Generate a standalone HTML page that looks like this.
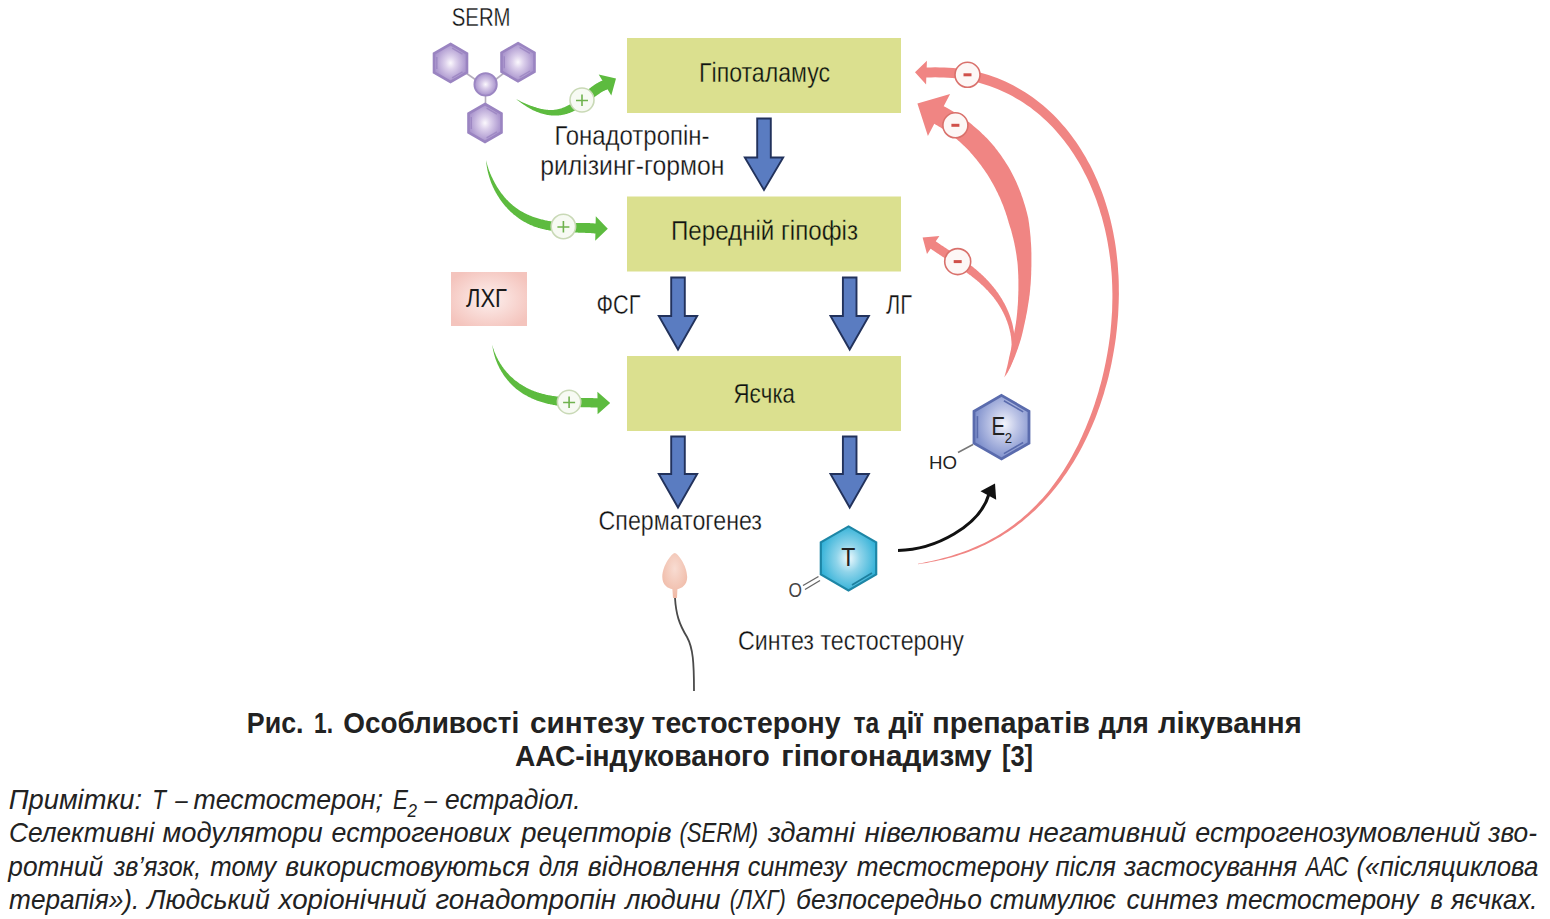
<!DOCTYPE html>
<html><head><meta charset="utf-8"><title>Рис. 1</title>
<style>
html,body{margin:0;padding:0;background:#fff;width:1550px;height:919px;overflow:hidden}
svg{display:block}
text{font-family:"Liberation Sans",sans-serif}
.lab{fill:#111;stroke:#ffffff;stroke-width:0.3px}
.lhg{fill:#1a1a1a}
.box{fill:#111;stroke:#dbe08f;stroke-width:0.3px}
.mol{fill:#222}
.cap{fill:#222;font-weight:bold}
.note{fill:#222;font-style:italic}
.ba{fill:#5a7cc1;stroke:#22325c;stroke-width:1.9;stroke-linejoin:miter}
</style></head><body>
<svg width="1550" height="919" viewBox="0 0 1550 919">
<defs>
<radialGradient id="gp" cx="0.5" cy="0.5" r="0.55"><stop offset="0" stop-color="#fbf8fd"/><stop offset="0.3" stop-color="#ddd1ec"/><stop offset="0.8" stop-color="#b09cd1"/><stop offset="1" stop-color="#a48ec9"/></radialGradient>
<radialGradient id="gt" cx="0.5" cy="0.5" r="0.55"><stop offset="0" stop-color="#f2fbfe"/><stop offset="0.4" stop-color="#8fd4ea"/><stop offset="1" stop-color="#2aaed6"/></radialGradient>
<radialGradient id="ge" cx="0.55" cy="0.45" r="0.55"><stop offset="0" stop-color="#f4f5fb"/><stop offset="0.45" stop-color="#bcc4e6"/><stop offset="1" stop-color="#7f90cc"/></radialGradient>
<radialGradient id="gl" cx="0.5" cy="0.5" r="0.6"><stop offset="0" stop-color="#fdf0ee"/><stop offset="1" stop-color="#f4c4bd"/></radialGradient>
<radialGradient id="gs" cx="0.5" cy="0.35" r="0.6"><stop offset="0" stop-color="#f8dcd2"/><stop offset="1" stop-color="#f0bba8"/></radialGradient>
</defs>
<rect x="627" y="38" width="274" height="75" fill="#dbe08f"/>
<rect x="627" y="196.5" width="274" height="75" fill="#dbe08f"/>
<rect x="627" y="356" width="274" height="75" fill="#dbe08f"/>
<text class="box" x="699.00" y="82" font-size="28" textLength="130.99" lengthAdjust="spacingAndGlyphs">Гіпоталамус</text>
<text class="box" x="671.00" y="240" font-size="28" textLength="187.01" lengthAdjust="spacingAndGlyphs">Передній гіпофіз</text>
<text class="box" x="733.50" y="402.5" font-size="28" textLength="61.48" lengthAdjust="spacingAndGlyphs">Яєчка</text>
<polygon class="ba" points="757.2,118.5 770.8,118.5 770.8,157.5 783.2,157.5 764.0,190.0 744.8,157.5 757.2,157.5"/>
<polygon class="ba" points="671.2,277.5 684.8,277.5 684.8,316.0 697.2,316.0 678.0,349.5 658.8,316.0 671.2,316.0"/>
<polygon class="ba" points="842.9,277.5 856.5,277.5 856.5,316.0 868.9,316.0 849.7,349.5 830.5,316.0 842.9,316.0"/>
<polygon class="ba" points="671.2,436.5 684.8,436.5 684.8,474.0 697.2,474.0 678.0,507.5 658.8,474.0 671.2,474.0"/>
<polygon class="ba" points="842.9,436.5 856.5,436.5 856.5,474.0 868.9,474.0 849.7,507.5 830.5,474.0 842.9,474.0"/>
<text class="lab" x="451.80" y="26.4" font-size="26.5" textLength="58.78" lengthAdjust="spacingAndGlyphs">SERM</text>
<text class="lab" x="554.40" y="144.7" font-size="28" textLength="155.07" lengthAdjust="spacingAndGlyphs">Гонадотропін-</text>
<text class="lab" x="540.20" y="174.9" font-size="28" textLength="184.23" lengthAdjust="spacingAndGlyphs">рилізинг-гормон</text>
<text class="lab" x="596.50" y="314.2" font-size="27" textLength="43.98" lengthAdjust="spacingAndGlyphs">ФСГ</text>
<text class="lab" x="886.00" y="314.2" font-size="27" textLength="26.01" lengthAdjust="spacingAndGlyphs">ЛГ</text>
<text class="lab" x="598.60" y="530" font-size="28" textLength="163.39" lengthAdjust="spacingAndGlyphs">Сперматогенез</text>
<text class="lab" x="738.00" y="650.3" font-size="28" textLength="225.88" lengthAdjust="spacingAndGlyphs">Синтез тестостерону</text>
<rect x="451" y="272" width="76" height="54" fill="url(#gl)"/>
<text class="lhg" x="466.00" y="306.7" font-size="26.5" textLength="40.99" lengthAdjust="spacingAndGlyphs">ЛХГ</text>
<g stroke="#b5aebd" stroke-width="1.6"><line x1="466" y1="73" x2="476" y2="80"/><line x1="504" y1="73" x2="495" y2="80"/><line x1="485.5" y1="96" x2="485.5" y2="104"/></g>
<polygon points="450.5,44.0 467.0,53.5 467.0,72.5 450.5,82.0 434.0,72.5 434.0,53.5" fill="url(#gp)" stroke="#9a84c1" stroke-width="2.6"/>
<g stroke="#9a84c1" stroke-width="1.4" opacity="0.8"><line x1="452.1" y1="48.1" x2="462.5" y2="54.2"/><line x1="462.5" y1="71.8" x2="452.1" y2="77.9"/><line x1="436.8" y1="69.0" x2="436.8" y2="57.0"/></g>
<polygon points="518.0,43.2 534.5,52.7 534.5,71.7 518.0,81.2 501.5,71.7 501.5,52.7" fill="url(#gp)" stroke="#9a84c1" stroke-width="2.6"/>
<g stroke="#9a84c1" stroke-width="1.4" opacity="0.8"><line x1="519.6" y1="47.3" x2="530.0" y2="53.4"/><line x1="530.0" y1="71.0" x2="519.6" y2="77.1"/><line x1="504.3" y1="68.2" x2="504.3" y2="56.2"/></g>
<polygon points="485.0,104.0 501.5,113.5 501.5,132.5 485.0,142.0 468.5,132.5 468.5,113.5" fill="url(#gp)" stroke="#9a84c1" stroke-width="2.6"/>
<g stroke="#9a84c1" stroke-width="1.4" opacity="0.8"><line x1="486.6" y1="108.1" x2="497.0" y2="114.2"/><line x1="497.0" y1="131.8" x2="486.6" y2="137.9"/><line x1="471.3" y1="129.0" x2="471.3" y2="117.0"/></g>
<circle cx="485.6" cy="84.4" r="11.2" fill="url(#gp)" stroke="#9b86c2" stroke-width="1.8"/>
<path d="M516.0,99.0 L516.4,99.3 L516.9,99.7 L517.3,100.0 L517.8,100.4 L518.3,100.7 L518.7,101.1 L519.2,101.5 L519.7,101.8 L520.2,102.2 L520.7,102.6 L521.2,102.9 L521.7,103.3 L522.2,103.7 L522.8,104.0 L523.3,104.4 L523.8,104.8 L524.4,105.1 L524.9,105.5 L525.5,105.8 L526.0,106.2 L526.6,106.6 L527.1,106.9 L527.7,107.3 L528.3,107.6 L528.9,108.0 L529.4,108.3 L530.0,108.6 L530.6,109.0 L531.2,109.3 L531.8,109.6 L532.4,109.9 L533.0,110.2 L533.6,110.5 L534.3,110.8 L534.9,111.1 L535.5,111.3 L536.1,111.6 L536.8,111.9 L537.4,112.1 L538.0,112.3 L538.7,112.6 L539.3,112.8 L539.9,113.0 L540.6,113.2 L541.2,113.4 L541.9,113.6 L542.5,113.8 L543.2,114.0 L543.8,114.1 L544.5,114.3 L545.1,114.5 L545.8,114.6 L546.4,114.7 L547.1,114.9 L547.7,115.0 L548.4,115.1 L549.0,115.2 L549.7,115.3 L550.3,115.3 L551.0,115.4 L551.7,115.4 L552.3,115.5 L553.0,115.5 L553.6,115.6 L554.3,115.6 L554.9,115.6 L555.6,115.6 L556.3,115.6 L556.9,115.5 L557.6,115.5 L558.2,115.5 L558.9,115.4 L559.5,115.3 L560.2,115.3 L560.8,115.2 L561.5,115.1 L562.1,115.0 L562.8,114.8 L563.4,114.7 L564.0,114.6 L564.7,114.4 L565.3,114.3 L566.0,114.1 L566.6,113.9 L567.2,113.7 L567.9,113.5 L568.5,113.3 L569.1,113.1 L569.7,112.9 L570.4,112.6 L571.0,112.4 L571.6,112.1 L572.2,111.9 L572.8,111.6 L573.4,111.3 L574.0,111.0 L574.6,110.7 L575.2,110.4 L575.8,110.1 L576.4,109.8 L577.0,109.5 L577.6,109.1 L578.1,108.8 L578.7,108.5 L579.3,108.1 L579.9,107.7 L580.4,107.4 L581.0,107.0 L581.6,106.7 L582.1,106.3 L582.7,105.9 L583.2,105.5 L583.8,105.1 L584.3,104.8 L584.9,104.4 L585.4,104.0 L586.0,103.6 L586.5,103.2 L587.1,102.8 L587.6,102.4 L588.1,102.0 L588.6,101.6 L589.2,101.2 L589.7,100.8 L590.2,100.4 L590.7,100.0 L591.3,99.6 L591.8,99.2 L592.3,98.8 L592.8,98.4 L593.3,98.0 L593.8,97.6 L594.3,97.2 L594.8,96.9 L595.3,96.5 L595.8,96.1 L596.3,95.8 L596.8,95.4 L597.3,95.1 L597.8,94.7 L598.3,94.4 L598.7,94.0 L599.2,93.7 L599.7,93.4 L600.2,93.0 L600.6,92.7 L601.1,92.4 L601.6,92.1 L602.0,91.9 L602.5,91.6 L603.0,91.4 L603.4,91.1 L603.9,90.9 L604.3,90.7 L604.8,90.4 L605.2,90.3 L605.7,90.1 L606.1,89.9 L606.7,89.7 L607.5,89.3 L611.3,95.6 L616.0,78.5 L598.7,74.4 L602.5,80.7 L603.3,80.3 L602.7,80.5 L602.0,80.8 L601.4,81.0 L600.7,81.3 L600.1,81.6 L599.4,81.9 L598.8,82.2 L598.2,82.6 L597.6,82.9 L597.0,83.2 L596.4,83.6 L595.8,84.0 L595.2,84.3 L594.6,84.7 L594.1,85.1 L593.5,85.5 L592.9,85.9 L592.4,86.3 L591.8,86.7 L591.3,87.1 L590.8,87.5 L590.2,87.9 L589.7,88.3 L589.2,88.8 L588.7,89.2 L588.2,89.6 L587.7,90.1 L587.2,90.5 L586.7,90.9 L586.2,91.4 L585.7,91.8 L585.2,92.2 L584.7,92.7 L584.2,93.1 L583.7,93.5 L583.3,94.0 L582.8,94.4 L582.3,94.8 L581.8,95.2 L581.3,95.7 L580.8,96.1 L580.4,96.5 L579.9,96.9 L579.4,97.3 L578.9,97.7 L578.4,98.1 L578.0,98.5 L577.5,98.9 L577.0,99.3 L576.5,99.7 L576.1,100.1 L575.6,100.4 L575.1,100.8 L574.6,101.2 L574.1,101.5 L573.7,101.9 L573.2,102.2 L572.7,102.6 L572.2,102.9 L571.7,103.2 L571.2,103.5 L570.7,103.8 L570.3,104.1 L569.8,104.4 L569.3,104.7 L568.8,105.0 L568.3,105.3 L567.8,105.5 L567.3,105.8 L566.8,106.1 L566.3,106.3 L565.8,106.6 L565.3,106.8 L564.8,107.0 L564.3,107.2 L563.8,107.4 L563.2,107.6 L562.7,107.8 L562.2,108.0 L561.7,108.2 L561.2,108.4 L560.6,108.5 L560.1,108.7 L559.6,108.8 L559.0,109.0 L558.5,109.1 L558.0,109.2 L557.4,109.3 L556.9,109.4 L556.3,109.5 L555.8,109.6 L555.2,109.7 L554.6,109.7 L554.1,109.8 L553.5,109.9 L553.0,109.9 L552.4,109.9 L551.8,109.9 L551.2,110.0 L550.7,110.0 L550.1,110.0 L549.5,109.9 L548.9,109.9 L548.3,109.9 L547.7,109.8 L547.1,109.8 L546.5,109.7 L545.9,109.7 L545.3,109.6 L544.7,109.5 L544.1,109.4 L543.5,109.3 L542.9,109.2 L542.3,109.1 L541.7,109.0 L541.1,108.9 L540.5,108.7 L539.9,108.6 L539.3,108.4 L538.7,108.3 L538.0,108.1 L537.4,107.9 L536.8,107.7 L536.2,107.5 L535.6,107.3 L535.0,107.1 L534.4,106.9 L533.8,106.7 L533.1,106.5 L532.5,106.3 L531.9,106.1 L531.3,105.9 L530.7,105.7 L530.1,105.4 L529.5,105.2 L528.9,105.0 L528.2,104.7 L527.6,104.5 L527.0,104.3 L526.4,104.0 L525.8,103.8 L525.3,103.5 L524.7,103.2 L524.1,103.0 L523.5,102.7 L522.9,102.5 L522.4,102.2 L521.8,101.9 L521.2,101.7 L520.7,101.4 L520.1,101.1 L519.6,100.8 L519.1,100.6 L518.5,100.3 L518.0,100.0 L517.5,99.8 L517.0,99.5 L516.5,99.3 L516.0,99.0Z" fill="#5dbb3f"/>
<path d="M486.0,160.0 L486.1,160.8 L486.2,161.7 L486.2,162.5 L486.3,163.4 L486.5,164.3 L486.6,165.1 L486.7,166.0 L486.9,166.9 L487.0,167.8 L487.2,168.6 L487.3,169.5 L487.5,170.4 L487.7,171.3 L487.9,172.2 L488.1,173.1 L488.4,174.0 L488.6,174.9 L488.9,175.8 L489.1,176.7 L489.4,177.6 L489.7,178.5 L490.0,179.4 L490.3,180.3 L490.6,181.2 L490.9,182.0 L491.2,182.9 L491.6,183.8 L492.0,184.7 L492.4,185.6 L492.7,186.4 L493.1,187.3 L493.5,188.1 L494.0,189.0 L494.4,189.9 L494.8,190.7 L495.3,191.6 L495.7,192.4 L496.2,193.2 L496.7,194.1 L497.2,194.9 L497.7,195.7 L498.2,196.5 L498.7,197.3 L499.2,198.1 L499.7,198.9 L500.3,199.7 L500.8,200.5 L501.4,201.2 L501.9,202.0 L502.5,202.8 L503.1,203.5 L503.7,204.3 L504.3,205.0 L504.9,205.7 L505.5,206.4 L506.2,207.1 L506.8,207.8 L507.4,208.5 L508.1,209.2 L508.8,209.9 L509.4,210.6 L510.1,211.2 L510.8,211.9 L511.5,212.5 L512.2,213.1 L512.9,213.8 L513.6,214.4 L514.4,215.0 L515.1,215.6 L515.8,216.1 L516.6,216.7 L517.3,217.3 L518.1,217.8 L518.9,218.4 L519.7,218.9 L520.4,219.4 L521.2,219.9 L522.0,220.4 L522.8,220.9 L523.6,221.4 L524.5,221.9 L525.3,222.3 L526.1,222.8 L527.0,223.2 L527.8,223.7 L528.6,224.1 L529.5,224.5 L530.3,224.9 L531.2,225.3 L532.1,225.6 L533.0,226.0 L533.8,226.4 L534.7,226.7 L535.6,227.0 L536.5,227.3 L537.4,227.6 L538.3,227.9 L539.2,228.1 L540.2,228.4 L541.1,228.6 L542.0,228.9 L542.9,229.1 L543.8,229.3 L544.8,229.5 L545.7,229.7 L546.6,229.9 L547.6,230.1 L548.5,230.3 L549.4,230.4 L550.4,230.6 L551.3,230.7 L552.3,230.9 L553.2,231.0 L554.1,231.2 L555.1,231.3 L556.0,231.4 L557.0,231.5 L557.9,231.6 L558.9,231.7 L559.8,231.8 L560.7,231.9 L561.7,231.9 L562.6,232.0 L563.6,232.1 L564.5,232.1 L565.5,232.2 L566.4,232.2 L567.4,232.3 L568.3,232.3 L569.2,232.4 L570.2,232.4 L571.1,232.5 L572.0,232.5 L573.0,232.5 L573.9,232.5 L574.8,232.6 L575.7,232.6 L576.7,232.6 L577.6,232.6 L578.5,232.7 L579.4,232.7 L580.3,232.7 L581.2,232.7 L582.1,232.8 L583.0,232.8 L583.9,232.8 L584.8,232.8 L585.7,232.9 L586.6,232.9 L587.4,233.0 L588.3,233.0 L589.2,233.0 L590.0,233.1 L590.9,233.1 L591.7,233.2 L592.6,233.3 L593.4,233.3 L594.2,233.4 L595.1,233.5 L595.4,233.5 L595.2,240.7 L607.8,228.8 L595.8,216.3 L595.6,223.5 L595.9,223.5 L595.1,223.4 L594.2,223.4 L593.2,223.3 L592.3,223.3 L591.4,223.2 L590.5,223.2 L589.6,223.1 L588.7,223.1 L587.8,223.1 L586.9,223.1 L586.0,223.0 L585.1,223.0 L584.1,223.0 L583.2,223.0 L582.3,223.0 L581.4,223.0 L580.5,222.9 L579.6,222.9 L578.7,222.9 L577.8,222.9 L576.8,222.9 L575.9,222.9 L575.0,222.9 L574.1,222.9 L573.2,222.9 L572.3,222.8 L571.4,222.8 L570.5,222.8 L569.6,222.8 L568.7,222.8 L567.8,222.7 L566.8,222.7 L565.9,222.7 L565.0,222.6 L564.1,222.6 L563.3,222.5 L562.4,222.5 L561.5,222.4 L560.6,222.4 L559.7,222.3 L558.8,222.2 L557.9,222.1 L557.0,222.1 L556.1,222.0 L555.3,221.9 L554.4,221.8 L553.5,221.7 L552.7,221.5 L551.8,221.4 L550.9,221.3 L550.1,221.2 L549.2,221.0 L548.4,220.9 L547.5,220.7 L546.7,220.5 L545.8,220.4 L545.0,220.2 L544.1,220.0 L543.3,219.8 L542.5,219.6 L541.6,219.4 L540.8,219.2 L540.0,218.9 L539.2,218.7 L538.4,218.4 L537.6,218.2 L536.8,218.0 L536.0,217.7 L535.1,217.5 L534.3,217.2 L533.5,216.9 L532.8,216.7 L532.0,216.4 L531.2,216.1 L530.4,215.8 L529.6,215.4 L528.8,215.1 L528.1,214.8 L527.3,214.4 L526.5,214.1 L525.8,213.7 L525.0,213.3 L524.3,212.9 L523.5,212.5 L522.8,212.1 L522.0,211.7 L521.3,211.3 L520.6,210.9 L519.9,210.4 L519.1,210.0 L518.4,209.5 L517.7,209.0 L517.0,208.5 L516.3,208.0 L515.6,207.5 L514.9,207.0 L514.3,206.5 L513.6,205.9 L512.9,205.4 L512.2,204.8 L511.6,204.2 L510.9,203.7 L510.3,203.1 L509.6,202.5 L509.0,201.9 L508.4,201.3 L507.8,200.6 L507.1,200.0 L506.5,199.4 L505.9,198.7 L505.3,198.0 L504.7,197.4 L504.2,196.7 L503.6,196.0 L503.0,195.3 L502.5,194.6 L501.9,193.9 L501.4,193.2 L500.8,192.5 L500.3,191.7 L499.8,191.0 L499.3,190.2 L498.8,189.5 L498.3,188.7 L497.8,187.9 L497.3,187.2 L496.8,186.4 L496.3,185.6 L495.9,184.8 L495.4,184.0 L495.0,183.2 L494.6,182.4 L494.1,181.6 L493.7,180.8 L493.3,180.0 L492.9,179.2 L492.5,178.3 L492.1,177.5 L491.7,176.7 L491.3,175.9 L491.0,175.0 L490.6,174.2 L490.2,173.4 L489.9,172.5 L489.6,171.7 L489.2,170.9 L488.9,170.0 L488.6,169.2 L488.3,168.3 L488.1,167.5 L487.8,166.7 L487.5,165.8 L487.3,165.0 L487.0,164.1 L486.8,163.3 L486.6,162.5 L486.4,161.6 L486.2,160.8 L486.0,160.0Z" fill="#5dbb3f"/>
<path d="M492.2,344.7 L492.3,345.5 L492.4,346.4 L492.6,347.2 L492.7,348.1 L492.9,348.9 L493.0,349.8 L493.2,350.6 L493.4,351.4 L493.6,352.3 L493.8,353.1 L494.0,353.9 L494.2,354.8 L494.5,355.6 L494.7,356.4 L495.0,357.2 L495.2,358.1 L495.5,358.9 L495.8,359.7 L496.1,360.5 L496.4,361.3 L496.7,362.1 L497.1,362.9 L497.4,363.7 L497.7,364.5 L498.1,365.3 L498.5,366.0 L498.8,366.8 L499.2,367.6 L499.6,368.4 L500.0,369.1 L500.5,369.9 L500.9,370.6 L501.3,371.4 L501.7,372.1 L502.2,372.8 L502.7,373.6 L503.1,374.3 L503.6,375.0 L504.1,375.7 L504.6,376.4 L505.1,377.1 L505.6,377.8 L506.2,378.5 L506.7,379.1 L507.2,379.8 L507.8,380.5 L508.4,381.1 L508.9,381.8 L509.5,382.4 L510.1,383.0 L510.7,383.7 L511.3,384.3 L511.9,384.9 L512.5,385.5 L513.1,386.1 L513.7,386.7 L514.4,387.2 L515.0,387.8 L515.7,388.4 L516.3,388.9 L517.0,389.5 L517.7,390.0 L518.4,390.5 L519.1,391.0 L519.8,391.5 L520.5,392.0 L521.2,392.5 L521.9,393.0 L522.6,393.4 L523.4,393.9 L524.1,394.4 L524.9,394.8 L525.6,395.2 L526.4,395.6 L527.1,396.1 L527.9,396.5 L528.7,396.9 L529.4,397.3 L530.2,397.6 L531.0,398.0 L531.8,398.4 L532.6,398.7 L533.4,399.1 L534.2,399.4 L535.0,399.7 L535.8,400.1 L536.6,400.4 L537.4,400.7 L538.2,401.0 L539.1,401.3 L539.9,401.5 L540.7,401.8 L541.6,402.1 L542.4,402.3 L543.2,402.6 L544.1,402.8 L544.9,403.0 L545.8,403.3 L546.6,403.5 L547.5,403.7 L548.3,403.9 L549.2,404.1 L550.1,404.3 L550.9,404.5 L551.8,404.6 L552.6,404.8 L553.5,405.0 L554.4,405.1 L555.2,405.3 L556.1,405.4 L557.0,405.5 L557.9,405.7 L558.7,405.8 L559.6,405.9 L560.5,406.0 L561.3,406.1 L562.2,406.2 L563.1,406.3 L564.0,406.3 L564.8,406.4 L565.7,406.5 L566.6,406.6 L567.4,406.6 L568.3,406.7 L569.2,406.8 L570.0,406.8 L570.9,406.8 L571.8,406.9 L572.6,406.9 L573.5,407.0 L574.4,407.0 L575.2,407.0 L576.1,407.0 L576.9,407.1 L577.8,407.1 L578.6,407.1 L579.5,407.1 L580.3,407.1 L581.2,407.2 L582.0,407.2 L582.8,407.2 L583.7,407.2 L584.5,407.2 L585.3,407.2 L586.1,407.3 L587.0,407.3 L587.8,407.3 L588.6,407.3 L589.4,407.3 L590.2,407.3 L591.0,407.4 L591.8,407.4 L592.6,407.4 L593.4,407.4 L594.1,407.5 L594.9,407.5 L595.7,407.6 L596.5,407.6 L597.2,407.6 L597.5,407.6 L597.6,414.2 L610.2,402.9 L597.4,391.8 L597.5,398.4 L597.8,398.4 L597.0,398.3 L596.2,398.3 L595.4,398.2 L594.5,398.2 L593.7,398.2 L592.9,398.1 L592.1,398.1 L591.3,398.1 L590.5,398.0 L589.6,398.0 L588.8,398.0 L588.0,398.0 L587.2,398.0 L586.3,398.0 L585.5,397.9 L584.7,397.9 L583.8,397.9 L583.0,397.9 L582.2,397.9 L581.3,397.9 L580.5,397.8 L579.7,397.8 L578.8,397.8 L578.0,397.8 L577.2,397.8 L576.3,397.7 L575.5,397.7 L574.7,397.7 L573.8,397.7 L573.0,397.6 L572.2,397.6 L571.3,397.6 L570.5,397.5 L569.7,397.5 L568.8,397.4 L568.0,397.4 L567.2,397.3 L566.4,397.3 L565.5,397.2 L564.7,397.2 L563.9,397.1 L563.1,397.1 L562.2,397.0 L561.4,396.9 L560.6,396.8 L559.8,396.8 L559.0,396.7 L558.1,396.6 L557.3,396.5 L556.5,396.4 L555.7,396.3 L554.9,396.2 L554.1,396.1 L553.3,396.0 L552.5,395.9 L551.7,395.7 L550.9,395.6 L550.1,395.5 L549.3,395.3 L548.5,395.2 L547.7,395.0 L546.9,394.9 L546.1,394.7 L545.3,394.5 L544.6,394.3 L543.8,394.1 L543.0,393.9 L542.2,393.7 L541.5,393.5 L540.7,393.3 L539.9,393.1 L539.2,392.9 L538.4,392.6 L537.7,392.4 L536.9,392.1 L536.2,391.9 L535.4,391.6 L534.7,391.4 L534.0,391.1 L533.2,390.8 L532.5,390.5 L531.8,390.2 L531.1,389.9 L530.3,389.6 L529.6,389.2 L528.9,388.9 L528.2,388.6 L527.5,388.2 L526.8,387.9 L526.1,387.5 L525.4,387.1 L524.8,386.7 L524.1,386.3 L523.4,385.9 L522.7,385.5 L522.1,385.1 L521.4,384.7 L520.8,384.3 L520.1,383.9 L519.4,383.4 L518.8,383.0 L518.2,382.5 L517.5,382.1 L516.9,381.6 L516.2,381.1 L515.6,380.7 L515.0,380.2 L514.4,379.7 L513.8,379.2 L513.2,378.6 L512.6,378.1 L512.0,377.6 L511.4,377.1 L510.8,376.5 L510.2,375.9 L509.7,375.4 L509.1,374.8 L508.6,374.2 L508.0,373.6 L507.5,373.0 L506.9,372.4 L506.4,371.8 L505.9,371.2 L505.4,370.6 L504.9,369.9 L504.3,369.3 L503.8,368.7 L503.4,368.0 L502.9,367.3 L502.4,366.7 L501.9,366.0 L501.5,365.3 L501.0,364.6 L500.6,363.9 L500.1,363.2 L499.7,362.5 L499.3,361.8 L498.8,361.1 L498.4,360.4 L498.0,359.6 L497.7,358.9 L497.3,358.1 L496.9,357.4 L496.5,356.6 L496.2,355.9 L495.8,355.1 L495.5,354.3 L495.2,353.5 L494.8,352.8 L494.5,352.0 L494.2,351.2 L494.0,350.4 L493.7,349.6 L493.4,348.8 L493.1,348.0 L492.9,347.2 L492.6,346.3 L492.4,345.5 L492.2,344.7Z" fill="#5dbb3f"/>
<circle cx="582" cy="100" r="12" fill="#f7faf3" stroke="#c9d9b6" stroke-width="1.6"/><path d="M576,100.5 H588 M582,94.5 V106" stroke="#6fb24e" stroke-width="1.6"/>
<circle cx="563.4" cy="226.5" r="12.2" fill="#f7faf3" stroke="#c9d9b6" stroke-width="1.6"/><path d="M557.4,227.0 H569.4 M563.4,221.0 V232.5" stroke="#6fb24e" stroke-width="1.6"/>
<circle cx="569.1" cy="402" r="11.7" fill="#f7faf3" stroke="#c9d9b6" stroke-width="1.6"/><path d="M563.1,402.5 H575.1 M569.1,396.5 V408" stroke="#6fb24e" stroke-width="1.6"/>
<path d="M918.0,564.2 L922.3,563.6 L926.5,562.9 L930.8,562.1 L935.1,561.2 L939.3,560.3 L943.6,559.4 L947.9,558.3 L952.1,557.2 L956.4,555.9 L960.6,554.6 L964.8,553.2 L968.9,551.7 L973.1,550.1 L977.1,548.4 L981.2,546.6 L985.2,544.8 L989.1,542.8 L993.0,540.8 L996.9,538.6 L1000.7,536.4 L1004.4,534.1 L1008.1,531.7 L1011.7,529.3 L1015.3,526.7 L1018.8,524.1 L1022.2,521.4 L1025.6,518.6 L1028.9,515.8 L1032.2,512.8 L1035.4,509.9 L1038.5,506.8 L1041.6,503.7 L1044.6,500.5 L1047.6,497.2 L1050.4,493.9 L1053.3,490.6 L1056.0,487.2 L1058.7,483.7 L1061.4,480.2 L1063.9,476.6 L1066.5,473.0 L1068.9,469.3 L1071.3,465.6 L1073.6,461.9 L1075.9,458.1 L1078.1,454.3 L1080.2,450.4 L1082.3,446.5 L1084.3,442.6 L1086.3,438.6 L1088.2,434.6 L1090.0,430.6 L1091.8,426.6 L1093.5,422.5 L1095.2,418.4 L1096.8,414.3 L1098.3,410.1 L1099.8,406.0 L1101.2,401.8 L1102.6,397.6 L1103.9,393.4 L1105.1,389.1 L1106.3,384.9 L1107.5,380.7 L1108.6,376.4 L1109.6,372.1 L1110.6,367.8 L1111.5,363.5 L1112.3,359.2 L1113.1,354.9 L1113.9,350.5 L1114.6,346.2 L1115.3,341.8 L1115.9,337.5 L1116.4,333.1 L1116.9,328.8 L1117.3,324.4 L1117.7,320.0 L1118.1,315.6 L1118.3,311.3 L1118.5,306.9 L1118.7,302.5 L1118.8,298.1 L1118.9,293.7 L1118.8,289.3 L1118.8,284.9 L1118.7,280.5 L1118.5,276.1 L1118.2,271.7 L1117.9,267.3 L1117.6,262.9 L1117.1,258.5 L1116.6,254.1 L1116.1,249.8 L1115.5,245.4 L1114.8,241.0 L1114.0,236.7 L1113.2,232.3 L1112.3,228.0 L1111.3,223.6 L1110.3,219.3 L1109.2,215.0 L1108.0,210.7 L1106.7,206.4 L1105.4,202.2 L1104.0,198.0 L1102.5,193.8 L1100.9,189.6 L1099.3,185.4 L1097.6,181.3 L1095.8,177.2 L1093.9,173.1 L1092.0,169.1 L1090.0,165.1 L1087.8,161.2 L1085.7,157.3 L1083.4,153.4 L1081.0,149.6 L1078.6,145.8 L1076.1,142.1 L1073.5,138.4 L1070.8,134.8 L1068.1,131.3 L1065.3,127.8 L1062.3,124.4 L1059.3,121.1 L1056.3,117.8 L1053.1,114.6 L1049.9,111.5 L1046.6,108.5 L1043.2,105.6 L1039.7,102.7 L1036.2,100.0 L1032.6,97.3 L1028.9,94.8 L1025.1,92.3 L1021.3,89.9 L1017.4,87.7 L1013.5,85.5 L1009.5,83.5 L1005.4,81.6 L1001.3,79.8 L997.1,78.1 L992.8,76.6 L988.6,75.1 L984.2,73.8 L979.9,72.6 L975.5,71.6 L971.1,70.6 L966.6,69.8 L962.2,69.1 L957.7,68.5 L953.2,68.1 L948.7,67.7 L944.2,67.5 L939.7,67.4 L935.2,67.3 L930.7,67.4 L926.3,67.6 L926.7,67.6 L926.9,60.8 L915.0,72.2 L926.1,84.4 L926.3,77.6 L926.7,77.6 L931.0,77.4 L935.2,77.3 L939.5,77.4 L943.8,77.5 L948.0,77.7 L952.3,78.0 L956.5,78.5 L960.7,79.0 L964.9,79.7 L969.1,80.4 L973.3,81.3 L977.4,82.3 L981.5,83.4 L985.5,84.7 L989.5,86.0 L993.5,87.5 L997.4,89.0 L1001.3,90.7 L1005.1,92.5 L1008.9,94.3 L1012.7,96.3 L1016.3,98.4 L1020.0,100.5 L1023.5,102.8 L1027.0,105.2 L1030.5,107.6 L1033.8,110.2 L1037.1,112.8 L1040.4,115.6 L1043.6,118.4 L1046.7,121.3 L1049.7,124.3 L1052.7,127.3 L1055.6,130.5 L1058.4,133.7 L1061.1,136.9 L1063.8,140.3 L1066.4,143.7 L1068.9,147.1 L1071.4,150.7 L1073.8,154.2 L1076.1,157.9 L1078.3,161.5 L1080.5,165.3 L1082.5,169.0 L1084.5,172.9 L1086.5,176.7 L1088.3,180.6 L1090.1,184.5 L1091.8,188.5 L1093.4,192.5 L1095.0,196.5 L1096.5,200.6 L1097.9,204.7 L1099.3,208.8 L1100.5,212.9 L1101.8,217.0 L1102.9,221.2 L1104.0,225.4 L1105.0,229.6 L1105.9,233.8 L1106.8,238.0 L1107.6,242.3 L1108.3,246.5 L1109.0,250.8 L1109.6,255.0 L1110.2,259.3 L1110.7,263.6 L1111.1,267.9 L1111.5,272.2 L1111.8,276.5 L1112.0,280.8 L1112.2,285.1 L1112.3,289.4 L1112.4,293.7 L1112.4,298.0 L1112.3,302.3 L1112.2,306.6 L1112.1,310.9 L1111.8,315.2 L1111.5,319.5 L1111.2,323.8 L1110.8,328.1 L1110.4,332.4 L1109.9,336.7 L1109.3,341.0 L1108.7,345.3 L1108.0,349.6 L1107.3,353.8 L1106.5,358.1 L1105.7,362.3 L1104.8,366.6 L1103.9,370.8 L1102.9,375.0 L1101.9,379.2 L1100.8,383.4 L1099.6,387.6 L1098.5,391.8 L1097.2,395.9 L1095.9,400.1 L1094.6,404.2 L1093.2,408.3 L1091.7,412.4 L1090.2,416.5 L1088.6,420.5 L1087.0,424.6 L1085.4,428.6 L1083.6,432.6 L1081.9,436.6 L1080.0,440.5 L1078.2,444.4 L1076.2,448.3 L1074.2,452.1 L1072.1,456.0 L1070.0,459.7 L1067.8,463.5 L1065.5,467.2 L1063.2,470.9 L1060.8,474.5 L1058.4,478.1 L1055.9,481.6 L1053.3,485.1 L1050.7,488.5 L1048.0,491.9 L1045.2,495.2 L1042.4,498.4 L1039.4,501.6 L1036.5,504.8 L1033.4,507.8 L1030.3,510.8 L1027.2,513.8 L1023.9,516.6 L1020.6,519.4 L1017.2,522.1 L1013.8,524.7 L1010.3,527.3 L1006.8,529.8 L1003.1,532.2 L999.5,534.5 L995.8,536.7 L992.0,538.8 L988.1,540.9 L984.3,542.9 L980.3,544.8 L976.3,546.6 L972.3,548.3 L968.3,549.9 L964.2,551.5 L960.0,552.9 L955.9,554.3 L951.7,555.7 L947.5,556.9 L943.3,558.1 L939.1,559.2 L934.8,560.3 L930.6,561.2 L926.4,562.1 L922.2,563.0 L918.0,563.8Z" fill="#f08583"/>
<path d="M1004.3,377.4 L1005.2,375.8 L1006.2,374.1 L1007.1,372.5 L1008.0,370.8 L1008.9,369.1 L1009.7,367.5 L1010.6,365.8 L1011.4,364.1 L1012.3,362.4 L1013.1,360.7 L1013.9,359.0 L1014.6,357.2 L1015.3,355.5 L1015.9,353.7 L1016.6,351.9 L1017.2,350.2 L1017.9,348.4 L1018.5,346.6 L1019.1,344.8 L1019.7,343.0 L1020.2,341.2 L1020.8,339.4 L1021.3,337.6 L1021.8,335.8 L1022.2,334.0 L1022.7,332.1 L1023.1,330.3 L1023.5,328.5 L1023.9,326.6 L1024.3,324.8 L1024.7,322.9 L1025.1,321.1 L1025.5,319.2 L1025.9,317.4 L1026.2,315.5 L1026.6,313.7 L1027.0,311.8 L1027.3,309.9 L1027.6,308.1 L1027.9,306.2 L1028.2,304.3 L1028.5,302.4 L1028.8,300.6 L1029.1,298.7 L1029.3,296.8 L1029.6,294.9 L1029.8,293.0 L1030.0,291.1 L1030.2,289.2 L1030.3,287.3 L1030.5,285.4 L1030.7,283.5 L1030.8,281.6 L1030.9,279.7 L1031.0,277.8 L1031.1,275.9 L1031.2,274.0 L1031.2,272.0 L1031.3,270.1 L1031.3,268.2 L1031.4,266.3 L1031.4,264.4 L1031.4,262.4 L1031.4,260.5 L1031.4,258.6 L1031.4,256.7 L1031.4,254.7 L1031.4,252.8 L1031.3,250.9 L1031.3,249.0 L1031.2,247.0 L1031.1,245.1 L1031.0,243.2 L1030.8,241.2 L1030.7,239.3 L1030.6,237.4 L1030.4,235.4 L1030.2,233.5 L1030.0,231.6 L1029.8,229.6 L1029.6,227.7 L1029.3,225.8 L1029.1,223.8 L1028.8,221.9 L1028.5,220.0 L1028.2,218.0 L1027.7,216.1 L1027.3,214.2 L1026.8,212.3 L1026.3,210.4 L1025.8,208.5 L1025.2,206.6 L1024.7,204.8 L1024.1,202.9 L1023.5,201.0 L1022.9,199.1 L1022.3,197.3 L1021.6,195.4 L1021.0,193.6 L1020.3,191.7 L1019.6,189.9 L1018.8,188.1 L1018.1,186.2 L1017.3,184.4 L1016.5,182.6 L1015.7,180.8 L1014.8,179.0 L1014.0,177.2 L1013.1,175.5 L1012.2,173.7 L1011.3,171.9 L1010.4,170.2 L1009.4,168.5 L1008.4,166.7 L1007.3,165.0 L1006.3,163.4 L1005.2,161.7 L1004.1,160.0 L1003.0,158.4 L1001.9,156.7 L1000.7,155.1 L999.6,153.5 L998.4,151.9 L997.2,150.3 L995.9,148.7 L994.7,147.1 L993.4,145.6 L992.1,144.0 L990.8,142.5 L989.4,141.1 L988.1,139.6 L986.7,138.1 L985.3,136.7 L983.9,135.3 L982.4,133.9 L981.0,132.5 L979.5,131.1 L978.0,129.8 L976.5,128.5 L975.0,127.2 L973.5,125.9 L971.9,124.6 L970.4,123.3 L968.8,122.1 L967.2,120.9 L965.6,119.7 L964.0,118.5 L962.3,117.4 L960.7,116.3 L959.0,115.1 L957.4,114.1 L955.7,113.0 L954.0,111.9 L952.3,110.9 L950.6,109.9 L948.9,108.9 L947.1,108.0 L945.4,107.1 L943.7,106.2 L943.7,106.2 L950.1,94.1 L917.4,103.5 L927.9,135.9 L934.3,123.8 L934.3,123.8 L935.8,124.7 L937.3,125.5 L938.8,126.4 L940.3,127.3 L941.7,128.2 L943.2,129.1 L944.6,130.1 L946.1,131.0 L947.5,132.0 L948.9,133.0 L950.3,134.1 L951.7,135.1 L953.1,136.2 L954.4,137.3 L955.8,138.4 L957.1,139.5 L958.4,140.7 L959.7,141.8 L961.0,143.0 L962.3,144.2 L963.6,145.4 L964.8,146.6 L966.0,147.8 L967.3,149.1 L968.5,150.3 L969.7,151.6 L970.8,152.9 L972.0,154.2 L973.1,155.5 L974.3,156.9 L975.4,158.2 L976.5,159.6 L977.6,160.9 L978.6,162.3 L979.7,163.7 L980.8,165.0 L981.8,166.4 L982.8,167.9 L983.8,169.3 L984.8,170.7 L985.8,172.2 L986.7,173.6 L987.7,175.1 L988.6,176.5 L989.5,178.0 L990.4,179.5 L991.2,181.0 L992.1,182.5 L993.0,184.0 L993.8,185.6 L994.6,187.1 L995.4,188.6 L996.2,190.2 L997.0,191.7 L997.8,193.3 L998.5,194.9 L999.3,196.5 L1000.0,198.1 L1000.7,199.7 L1001.3,201.3 L1002.0,202.9 L1002.7,204.5 L1003.3,206.1 L1003.9,207.8 L1004.5,209.4 L1005.1,211.1 L1005.7,212.7 L1006.2,214.4 L1006.8,216.1 L1007.3,217.8 L1007.8,219.4 L1008.3,221.1 L1008.7,222.8 L1009.3,224.5 L1009.8,226.2 L1010.4,227.9 L1010.9,229.6 L1011.4,231.3 L1011.8,233.0 L1012.3,234.8 L1012.7,236.5 L1013.2,238.2 L1013.6,240.0 L1014.0,241.7 L1014.4,243.5 L1014.7,245.2 L1015.1,247.0 L1015.4,248.8 L1015.7,250.5 L1016.0,252.3 L1016.3,254.1 L1016.6,255.9 L1016.8,257.7 L1017.0,259.5 L1017.3,261.3 L1017.5,263.1 L1017.7,264.9 L1017.8,266.7 L1017.9,268.5 L1018.0,270.3 L1018.1,272.1 L1018.2,274.0 L1018.3,275.8 L1018.3,277.6 L1018.4,279.4 L1018.4,281.2 L1018.4,283.1 L1018.4,284.9 L1018.4,286.7 L1018.4,288.5 L1018.4,290.4 L1018.3,292.2 L1018.3,294.0 L1018.2,295.9 L1018.1,297.7 L1018.1,299.5 L1018.0,301.3 L1017.9,303.2 L1017.8,305.0 L1017.6,306.8 L1017.5,308.7 L1017.3,310.5 L1017.2,312.3 L1017.0,314.1 L1016.8,316.0 L1016.6,317.8 L1016.4,319.6 L1016.1,321.4 L1015.9,323.2 L1015.6,325.0 L1015.3,326.8 L1015.0,328.6 L1014.6,330.4 L1014.3,332.2 L1014.0,334.0 L1013.6,335.8 L1013.2,337.6 L1012.9,339.4 L1012.6,341.2 L1012.3,343.0 L1011.9,344.9 L1011.6,346.7 L1011.2,348.5 L1010.8,350.2 L1010.4,352.0 L1010.0,353.8 L1009.6,355.6 L1009.1,357.4 L1008.8,359.2 L1008.4,361.1 L1008.0,362.9 L1007.6,364.7 L1007.2,366.5 L1006.7,368.3 L1006.3,370.1 L1005.8,372.0 L1005.3,373.8 L1004.8,375.6 L1004.3,377.4Z" fill="#f08583"/>
<path d="M1004.3,377.4 L1004.9,376.5 L1005.6,375.6 L1006.2,374.7 L1006.8,373.8 L1007.3,372.9 L1007.9,372.0 L1008.4,371.0 L1008.9,370.1 L1009.4,369.1 L1009.9,368.2 L1010.3,367.2 L1010.8,366.2 L1011.2,365.2 L1011.6,364.2 L1012.0,363.2 L1012.3,362.1 L1012.7,361.1 L1013.0,360.1 L1013.3,359.0 L1013.5,358.0 L1013.8,356.9 L1013.9,355.8 L1014.1,354.8 L1014.3,353.7 L1014.4,352.6 L1014.5,351.6 L1014.6,350.5 L1014.7,349.4 L1014.8,348.3 L1014.8,347.2 L1014.9,346.1 L1014.9,345.1 L1014.9,344.0 L1014.9,342.9 L1014.9,341.8 L1014.8,340.7 L1014.8,339.6 L1014.7,338.5 L1014.6,337.5 L1014.5,336.4 L1014.4,335.3 L1014.3,334.2 L1014.1,333.1 L1014.0,332.1 L1013.8,331.0 L1013.6,329.9 L1013.4,328.9 L1013.2,327.8 L1013.0,326.7 L1012.8,325.7 L1012.5,324.6 L1012.3,323.5 L1012.0,322.5 L1011.7,321.4 L1011.4,320.4 L1011.1,319.4 L1010.7,318.3 L1010.4,317.3 L1010.0,316.3 L1009.7,315.2 L1009.3,314.2 L1008.9,313.2 L1008.5,312.2 L1008.1,311.2 L1007.6,310.2 L1007.2,309.2 L1006.7,308.2 L1006.3,307.2 L1005.8,306.2 L1005.3,305.3 L1004.8,304.3 L1004.3,303.3 L1003.8,302.4 L1003.2,301.4 L1002.7,300.5 L1002.1,299.5 L1001.6,298.6 L1001.0,297.7 L1000.4,296.8 L999.8,295.8 L999.2,294.9 L998.6,294.0 L998.0,293.1 L997.4,292.2 L996.7,291.4 L996.1,290.5 L995.4,289.6 L994.7,288.8 L994.1,287.9 L993.4,287.1 L992.7,286.2 L992.0,285.4 L991.3,284.5 L990.6,283.7 L989.9,282.9 L989.1,282.1 L988.4,281.3 L987.7,280.5 L986.9,279.7 L986.2,278.9 L985.4,278.1 L984.6,277.4 L983.9,276.6 L983.1,275.9 L982.3,275.1 L981.5,274.4 L980.7,273.6 L979.9,272.9 L979.1,272.2 L978.3,271.5 L977.4,270.8 L976.6,270.0 L975.8,269.3 L975.0,268.7 L974.1,268.0 L973.3,267.3 L972.4,266.6 L971.6,265.9 L970.7,265.3 L969.9,264.6 L969.0,263.9 L968.2,263.3 L967.3,262.6 L966.4,262.0 L965.6,261.4 L964.7,260.7 L963.8,260.1 L963.0,259.5 L962.1,258.8 L961.2,258.2 L960.4,257.6 L959.5,257.0 L958.6,256.4 L957.7,255.8 L956.8,255.2 L955.9,254.6 L955.0,254.1 L954.1,253.5 L953.2,252.9 L952.3,252.3 L951.5,251.7 L950.6,251.2 L949.7,250.6 L948.8,250.0 L947.9,249.5 L947.0,248.9 L946.2,248.3 L945.3,247.7 L944.4,247.2 L943.5,246.6 L942.7,246.0 L941.8,245.4 L940.9,244.9 L940.1,244.3 L939.2,243.7 L938.3,243.1 L937.5,242.5 L936.6,241.9 L935.8,241.3 L935.8,241.3 L939.4,236.1 L922.6,237.6 L927.0,253.9 L930.6,248.7 L930.6,248.7 L931.5,249.3 L932.4,249.9 L933.2,250.5 L934.1,251.1 L935.0,251.7 L935.9,252.3 L936.8,252.9 L937.7,253.5 L938.6,254.1 L939.5,254.7 L940.3,255.3 L941.2,255.8 L942.1,256.4 L943.0,257.0 L943.9,257.6 L944.8,258.2 L945.7,258.7 L946.6,259.3 L947.4,259.9 L948.3,260.4 L949.2,261.0 L950.1,261.6 L951.0,262.2 L951.9,262.7 L952.7,263.3 L953.6,263.9 L954.5,264.5 L955.3,265.1 L956.2,265.6 L957.1,266.2 L958.0,266.7 L958.9,267.3 L959.7,267.9 L960.6,268.5 L961.5,269.0 L962.3,269.6 L963.2,270.2 L964.0,270.8 L964.9,271.4 L965.8,272.0 L966.6,272.6 L967.4,273.2 L968.3,273.8 L969.1,274.4 L969.9,275.0 L970.8,275.6 L971.6,276.3 L972.4,276.9 L973.2,277.5 L974.0,278.2 L974.8,278.8 L975.6,279.5 L976.4,280.1 L977.2,280.8 L978.0,281.4 L978.8,282.1 L979.5,282.8 L980.3,283.5 L981.1,284.2 L981.8,284.9 L982.6,285.6 L983.3,286.3 L984.1,287.0 L984.8,287.7 L985.5,288.4 L986.2,289.2 L986.9,289.9 L987.7,290.6 L988.4,291.4 L989.0,292.2 L989.7,292.9 L990.4,293.7 L991.1,294.5 L991.7,295.3 L992.4,296.0 L993.0,296.8 L993.7,297.6 L994.3,298.5 L994.9,299.3 L995.5,300.1 L996.1,300.9 L996.7,301.8 L997.3,302.6 L997.9,303.5 L998.4,304.3 L999.0,305.2 L999.5,306.1 L1000.1,306.9 L1000.6,307.8 L1001.1,308.7 L1001.6,309.6 L1002.1,310.5 L1002.6,311.4 L1003.1,312.3 L1003.5,313.3 L1004.0,314.2 L1004.4,315.1 L1004.8,316.1 L1005.3,317.0 L1005.7,317.9 L1006.1,318.9 L1006.4,319.9 L1006.8,320.8 L1007.2,321.8 L1007.5,322.8 L1007.8,323.7 L1008.2,324.7 L1008.5,325.7 L1008.8,326.7 L1009.0,327.7 L1009.3,328.7 L1009.6,329.7 L1009.8,330.7 L1010.0,331.7 L1010.3,332.7 L1010.5,333.7 L1010.6,334.8 L1010.8,335.8 L1011.0,336.8 L1011.1,337.8 L1011.2,338.9 L1011.3,339.9 L1011.4,340.9 L1011.5,342.0 L1011.5,343.0 L1011.6,344.0 L1011.6,345.1 L1011.6,346.1 L1011.6,347.1 L1011.5,348.2 L1011.5,349.2 L1011.4,350.2 L1011.4,351.3 L1011.3,352.3 L1011.2,353.3 L1011.0,354.3 L1010.9,355.4 L1010.7,356.4 L1010.6,357.4 L1010.4,358.4 L1010.2,359.4 L1010.1,360.5 L1009.9,361.5 L1009.7,362.5 L1009.5,363.5 L1009.2,364.6 L1009.0,365.6 L1008.7,366.6 L1008.4,367.6 L1008.1,368.6 L1007.7,369.6 L1007.4,370.6 L1007.0,371.6 L1006.6,372.6 L1006.2,373.5 L1005.7,374.5 L1005.3,375.5 L1004.8,376.4 L1004.3,377.4Z" fill="#f08583"/>
<circle cx="967.5" cy="74.8" r="12.5" fill="#fdf7f6" stroke="#d9706b" stroke-width="1.6"/><path d="M963.5,74.8 H971.5" stroke="#d0504a" stroke-width="3"/>
<circle cx="955.4" cy="125.3" r="12.5" fill="#fdf7f6" stroke="#d9706b" stroke-width="1.6"/><path d="M951.4,125.3 H959.4" stroke="#d0504a" stroke-width="3"/>
<circle cx="957.7" cy="261.6" r="13" fill="#fdf7f6" stroke="#d9706b" stroke-width="1.6"/><path d="M953.7,261.6 H961.7" stroke="#d0504a" stroke-width="3"/>
<line x1="958" y1="452.5" x2="973" y2="444.5" stroke="#777" stroke-width="1.5"/>
<polygon points="1001.5,395.4 1029.0,411.3 1029.0,443.1 1001.5,459.0 974.0,443.1 974.0,411.3" fill="url(#ge)" stroke="#5a6bad" stroke-width="2.8"/>
<g stroke="#5a6bad" stroke-width="1.6"><line x1="1003.9" y1="400.8" x2="1023.2" y2="411.9"/><line x1="1023.2" y1="442.5" x2="1003.9" y2="453.6"/><line x1="977.4" y1="438.3" x2="977.4" y2="416.1"/></g>
<text class="mol" x="991.54" y="435" font-size="25.5" textLength="13.61" lengthAdjust="spacingAndGlyphs">E</text>
<text class="mol" x="1004.70" y="443.4" font-size="15" textLength="7.32" lengthAdjust="spacingAndGlyphs">2</text>
<text x="929" y="468.8" font-size="18" class="mol" fill="#333" textLength="28" lengthAdjust="spacingAndGlyphs">HO</text>
<g stroke="#666" stroke-width="1.4"><line x1="803" y1="585.5" x2="818.5" y2="576.5"/><line x1="805" y1="589.5" x2="820" y2="580.5"/></g>
<polygon points="848.5,526.4 876.2,542.4 876.2,574.4 848.5,590.4 820.8,574.4 820.8,542.4" fill="url(#gt)" stroke="#1d86a6" stroke-width="2.2"/>
<line x1="852" y1="585" x2="872" y2="573" stroke="#1d7f9e" stroke-width="1.8"/>
<text class="mol" x="841.30" y="565.5" font-size="25.5" textLength="14.12" lengthAdjust="spacingAndGlyphs">T</text>
<text x="788.5" y="596.5" font-size="21" class="mol" style="fill:#444" textLength="13.5" lengthAdjust="spacingAndGlyphs">O</text>
<path d="M898,550.4 C935,550 980,526 989,494" fill="none" stroke="#111" stroke-width="3"/>
<polygon points="995,483.5 980.5,491.2 996.2,499.8" fill="#111"/>
<path d="M675,598 C676,614 679,624 687,637 C693,648 694,662 694,691" fill="none" stroke="#4a4a4a" stroke-width="1.8"/>
<path d="M674.8,553 C677.5,553 687,565 687.2,577 C687.2,585 681.5,588.5 677.4,589.2 L677,598 L673,598 L672.4,589.2 C668,588.5 662.3,585 662.3,577 C662.5,565 672,553 674.8,553Z" fill="url(#gs)"/>
<text class="cap" x="246.80" y="733.1" font-size="29.3" textLength="56.72" lengthAdjust="spacingAndGlyphs">Рис.</text>
<text class="cap" x="314.00" y="733.1" font-size="29.3" textLength="18.98" lengthAdjust="spacingAndGlyphs">1.</text>
<text class="cap" x="343.20" y="733.1" font-size="29.3" textLength="176.02" lengthAdjust="spacingAndGlyphs">Особливості</text>
<text class="cap" x="530.00" y="733.1" font-size="29.3" textLength="114.48" lengthAdjust="spacingAndGlyphs">синтезу</text>
<text class="cap" x="651.50" y="733.1" font-size="29.3" textLength="189.09" lengthAdjust="spacingAndGlyphs">тестостерону</text>
<text class="cap" x="853.50" y="733.1" font-size="29.3" textLength="25.74" lengthAdjust="spacingAndGlyphs">та</text>
<text class="cap" x="888.40" y="733.1" font-size="29.3" textLength="34.27" lengthAdjust="spacingAndGlyphs">дії</text>
<text class="cap" x="932.30" y="733.1" font-size="29.3" textLength="157.52" lengthAdjust="spacingAndGlyphs">препаратів</text>
<text class="cap" x="1098.70" y="733.1" font-size="29.3" textLength="49.93" lengthAdjust="spacingAndGlyphs">для</text>
<text class="cap" x="1158.00" y="733.1" font-size="29.3" textLength="143.77" lengthAdjust="spacingAndGlyphs">лікування</text>
<text class="cap" x="515.00" y="765.8" font-size="29.3" textLength="254.69" lengthAdjust="spacingAndGlyphs">ААС-індукованого</text>
<text class="cap" x="781.30" y="765.8" font-size="29.3" textLength="210.32" lengthAdjust="spacingAndGlyphs">гіпогонадизму</text>
<text class="cap" x="1002.00" y="765.8" font-size="29.3" textLength="30.99" lengthAdjust="spacingAndGlyphs">[3]</text>
<text class="note" x="8.70" y="808.7" font-size="28" textLength="133.47" lengthAdjust="spacingAndGlyphs">Примітки:</text>
<text class="note" x="152.15" y="808.7" font-size="28" textLength="13.68" lengthAdjust="spacingAndGlyphs">Т</text>
<text class="note" x="175.18" y="808.7" font-size="28" textLength="12.46" lengthAdjust="spacingAndGlyphs">–</text>
<text class="note" x="193.50" y="808.7" font-size="28" textLength="189.52" lengthAdjust="spacingAndGlyphs">тестостерон;</text>
<text class="note" x="393.06" y="808.7" font-size="28" textLength="14.94" lengthAdjust="spacingAndGlyphs">E</text>
<text class="note" x="424.38" y="808.7" font-size="28" textLength="12.46" lengthAdjust="spacingAndGlyphs">–</text>
<text class="note" x="445.00" y="808.7" font-size="28" textLength="135.60" lengthAdjust="spacingAndGlyphs">естрадіол.</text>
<text class="note" x="407.53" y="817" font-size="18" textLength="9.49" lengthAdjust="spacingAndGlyphs">2</text>
<text class="note" x="9.00" y="842.1" font-size="28" textLength="145.21" lengthAdjust="spacingAndGlyphs">Селективні</text>
<text class="note" x="162.60" y="842.1" font-size="28" textLength="160.01" lengthAdjust="spacingAndGlyphs">модулятори</text>
<text class="note" x="331.60" y="842.1" font-size="28" textLength="179.18" lengthAdjust="spacingAndGlyphs">естрогенових</text>
<text class="note" x="521.29" y="842.1" font-size="28" textLength="150.28" lengthAdjust="spacingAndGlyphs">рецепторів</text>
<text class="note" x="679.40" y="842.1" font-size="28" textLength="78.60" lengthAdjust="spacingAndGlyphs">(SERM)</text>
<text class="note" x="767.91" y="842.1" font-size="28" textLength="86.99" lengthAdjust="spacingAndGlyphs">здатні</text>
<text class="note" x="864.50" y="842.1" font-size="28" textLength="156.08" lengthAdjust="spacingAndGlyphs">нівелювати</text>
<text class="note" x="1028.40" y="842.1" font-size="28" textLength="157.73" lengthAdjust="spacingAndGlyphs">негативний</text>
<text class="note" x="1195.20" y="842.1" font-size="28" textLength="285.10" lengthAdjust="spacingAndGlyphs">естрогенозумовлений</text>
<text class="note" x="1488.20" y="842.1" font-size="28" textLength="48.78" lengthAdjust="spacingAndGlyphs">зво-</text>
<text class="note" x="8.36" y="875.5" font-size="28" textLength="94.86" lengthAdjust="spacingAndGlyphs">ротний</text>
<text class="note" x="113.69" y="875.5" font-size="28" textLength="87.63" lengthAdjust="spacingAndGlyphs">зв’язок,</text>
<text class="note" x="210.30" y="875.5" font-size="28" textLength="65.74" lengthAdjust="spacingAndGlyphs">тому</text>
<text class="note" x="285.20" y="875.5" font-size="28" textLength="244.52" lengthAdjust="spacingAndGlyphs">використовуються</text>
<text class="note" x="538.70" y="875.5" font-size="28" textLength="40.02" lengthAdjust="spacingAndGlyphs">для</text>
<text class="note" x="587.70" y="875.5" font-size="28" textLength="152.29" lengthAdjust="spacingAndGlyphs">відновлення</text>
<text class="note" x="747.70" y="875.5" font-size="28" textLength="98.70" lengthAdjust="spacingAndGlyphs">синтезу</text>
<text class="note" x="856.80" y="875.5" font-size="28" textLength="190.84" lengthAdjust="spacingAndGlyphs">тестостерону</text>
<text class="note" x="1055.50" y="875.5" font-size="28" textLength="60.52" lengthAdjust="spacingAndGlyphs">після</text>
<text class="note" x="1124.10" y="875.5" font-size="28" textLength="172.90" lengthAdjust="spacingAndGlyphs">застосування</text>
<text class="note" x="1305.87" y="875.5" font-size="28" textLength="42.67" lengthAdjust="spacingAndGlyphs">ААС</text>
<text class="note" x="1356.50" y="875.5" font-size="28" textLength="181.87" lengthAdjust="spacingAndGlyphs">(«післяциклова</text>
<text class="note" x="9.00" y="909" font-size="28" textLength="130.37" lengthAdjust="spacingAndGlyphs">терапія»).</text>
<text class="note" x="147.26" y="909" font-size="28" textLength="122.45" lengthAdjust="spacingAndGlyphs">Людський</text>
<text class="note" x="278.58" y="909" font-size="28" textLength="147.91" lengthAdjust="spacingAndGlyphs">хоріонічний</text>
<text class="note" x="435.50" y="909" font-size="28" textLength="180.61" lengthAdjust="spacingAndGlyphs">гонадотропін</text>
<text class="note" x="625.25" y="909" font-size="28" textLength="95.32" lengthAdjust="spacingAndGlyphs">людини</text>
<text class="note" x="729.70" y="909" font-size="28" textLength="56.10" lengthAdjust="spacingAndGlyphs">(ЛХГ)</text>
<text class="note" x="796.10" y="909" font-size="28" textLength="185.93" lengthAdjust="spacingAndGlyphs">безпосередньо</text>
<text class="note" x="989.70" y="909" font-size="28" textLength="126.27" lengthAdjust="spacingAndGlyphs">стимулює</text>
<text class="note" x="1126.50" y="909" font-size="28" textLength="91.88" lengthAdjust="spacingAndGlyphs">синтез</text>
<text class="note" x="1226.10" y="909" font-size="28" textLength="192.23" lengthAdjust="spacingAndGlyphs">тестостерону</text>
<text class="note" x="1430.50" y="909" font-size="28" textLength="12.49" lengthAdjust="spacingAndGlyphs">в</text>
<text class="note" x="1450.95" y="909" font-size="28" textLength="86.58" lengthAdjust="spacingAndGlyphs">яєчках.</text>
</svg>
</body></html>
